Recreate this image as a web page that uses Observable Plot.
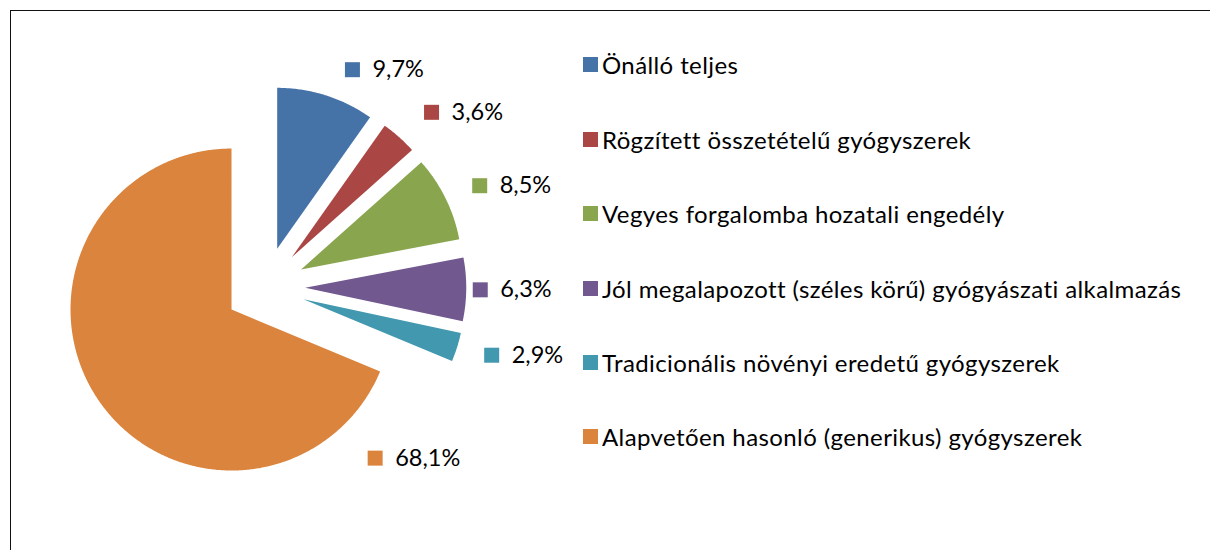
<!DOCTYPE html>
<html>
<head>
<meta charset="utf-8">
<script src="https://cdn.jsdelivr.net/npm/d3@7"></script>
<script src="https://cdn.jsdelivr.net/npm/@observablehq/plot@0.6"></script>
<style>
  html, body { margin: 0; padding: 0; background: #fff; }
  #wrap { position: relative; width: 1210px; height: 550px; overflow: hidden; background: #fff; }
  #frame { position: absolute; left: 10px; top: 10px; width: 1400px; height: 800px;
           border-top: 1px solid #111; border-left: 1px solid #111; pointer-events: none; }
  #chart { position: absolute; left: 0; top: 0; }
  #legend { position: absolute; left: 583px; top: 27.8px; }
</style>
</head>
<body>
<div id="wrap">
  <div id="frame"></div>
  <div id="chart"></div>
  <div id="legend"></div>
</div>
<script>
// ---- data ----
const categories = [
  "Önálló teljes",
  "Rögzített összetételű gyógyszerek",
  "Vegyes forgalomba hozatali engedély",
  "Jól megalapozott (széles körű) gyógyászati alkalmazás",
  "Tradicionális növényi eredetű gyógyszerek",
  "Alapvetően hasonló (generikus) gyógyszerek"
];
const values = [9.7, 3.6, 8.5, 6.3, 2.9, 68.1];
const valueLabels = ["9,7%", "3,6%", "8,5%", "6,3%", "2,9%", "68,1%"];
const colors = ["#4572A7", "#AA4643", "#89A54E", "#71588F", "#4198AF", "#DB843D"];

// ---- layout (pie units: radius = 1) ----
const explode = 0.25;
const labelAngle = [21.9, 43.6, 64.7, 90.7, 106.7, 147.2];   // degrees clockwise from 12 o'clock
const labelDist  = [1.456, 1.500, 1.475, 1.337, 1.470, 1.263];
const cx = 264.5, cy = 286.7, R = 161;
const FONT = "Lato, 'Open Sans', sans-serif";
const FS = 23.5;
const LEG_FS = 24;

// ---- build slice polygons ----
const arcs = d3.pie().sort(null).value(d => d)(values);
const polys = [];
arcs.forEach((a, i) => {
  const mid = (a.startAngle + a.endAngle) / 2;
  const ox = explode * Math.sin(mid), oy = explode * Math.cos(mid);
  const name = categories[i];
  polys.push({name, x: ox, y: oy});
  const n = Math.max(8, Math.ceil((a.endAngle - a.startAngle) / (Math.PI / 360)));
  for (let k = 0; k <= n; k++) {
    const t = a.startAngle + (a.endAngle - a.startAngle) * k / n;
    polys.push({name, x: ox + Math.sin(t), y: oy + Math.cos(t)});
  }
  polys.push({name, x: ox, y: oy});
});

const labelData = categories.map((name, i) => {
  const t = labelAngle[i] * Math.PI / 180;
  return {name, label: valueLabels[i], x: labelDist[i] * Math.sin(t), y: labelDist[i] * Math.cos(t)};
});

const chart = Plot.plot({
  width: 1210,
  height: 550,
  margin: 0,
  style: {background: "transparent", fontFamily: FONT},
  x: {domain: [-1, 1], range: [cx - R, cx + R], axis: null},
  y: {domain: [-1, 1], range: [cy + R, cy - R], axis: null},
  color: {domain: categories, range: colors},
  marks: [
    Plot.line(polys, {x: "x", y: "y", z: "name", fill: "name", stroke: "none", curve: "linear"}),
    Plot.dot(labelData, {x: "x", y: "y", fill: "name", symbol: "square", r: 8.46, stroke: "none"}),
    Plot.text(labelData, {x: "x", y: "y", text: "label", textAnchor: "start", dx: 20, fontSize: FS, fill: "#000", fontFamily: FONT})
  ]
});
document.getElementById("chart").appendChild(chart);

// ---- legend (Plot swatches, one column) ----
const leg = chart.legend("color", {columns: 1, swatchSize: 15});
leg.style.fontFamily = FONT;
leg.style.fontSize = LEG_FS + "px";
leg.style.letterSpacing = "0.4px";
leg.style.color = "#000";
leg.style.margin = "0";
leg.style.columns = "1";
leg.style.width = "620px";
leg.querySelectorAll("div").forEach(d => {
  if (d.querySelector("svg")) {
    d.style.height = "74.4px";
    d.style.display = "flex";
    d.style.alignItems = "center";
    d.style.paddingBottom = "0";
    d.style.margin = "0";
  }
});
leg.querySelectorAll("svg").forEach(s => { s.style.marginRight = "4px"; s.style.flexShrink = "0"; });
document.getElementById("legend").appendChild(leg);
</script>
</body>
</html>
